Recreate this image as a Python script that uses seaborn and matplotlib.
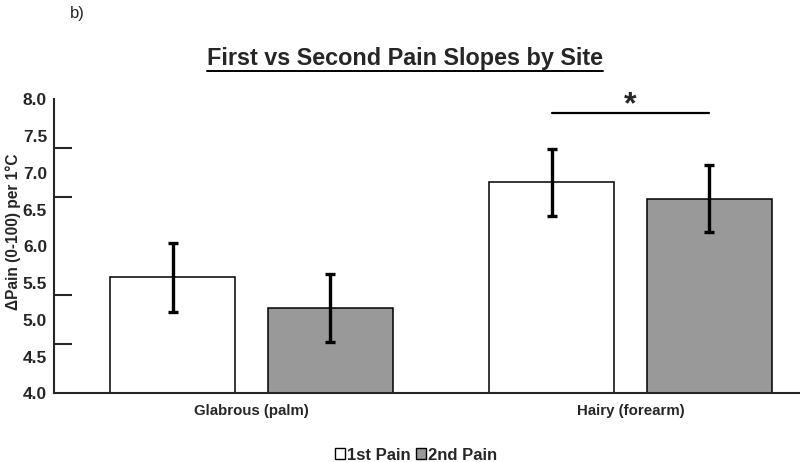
import numpy as np
import pandas as pd
import matplotlib.pyplot as plt
import seaborn as sns
from matplotlib.patches import Patch
from matplotlib.lines import Line2D

sites = ["Glabrous (palm)", "Hairy (forearm)"]
pain_types = ["1st Pain", "2nd Pain"]
first_pain = [5.58, 6.87]
second_pain = [5.16, 6.65]
first_err = [0.47, 0.46]
second_err = [0.46, 0.46]
y_ticks = [4.0, 4.5, 5.0, 5.5, 6.0, 6.5, 7.0, 7.5, 8.0]
y_ticklabels = ["4.0", "4.5", "5.0", "5.5", "6.0", "6.5", "7.0", "7.5", "8.0"]
colors = ["white", "#999999"]

df = pd.DataFrame({
    "site": sites * 2,
    "pain": [pain_types[0]] * 2 + [pain_types[1]] * 2,
    "slope": first_pain + second_pain,
    "err": first_err + second_err,
})

sns.set_style("ticks")
plt.rcParams["font.family"] = ["Liberation Sans", "DejaVu Sans"]

fig = plt.figure(figsize=(8, 4.62), dpi=100)
ax = fig.add_axes([0.0675, 0.1487, 0.9325, 0.636])

sns.barplot(data=df, x="site", y="slope", hue="pain", order=sites,
            hue_order=pain_types, palette=colors, edgecolor="black",
            linewidth=1.1, width=0.832, gap=0.207, errorbar=None,
            legend=False, ax=ax)

# error bars at each bar centre
for cont, errs in zip(ax.containers, [first_err, second_err]):
    for bar, e in zip(cont, errs):
        xc = bar.get_x() + bar.get_width() / 2
        ax.errorbar(xc, bar.get_height(), yerr=e, color="black",
                    elinewidth=2.4, capsize=3.4, capthick=2.4, zorder=5)

# significance bracket on hairy site
b1 = ax.containers[0][1]
b2 = ax.containers[1][1]
x1 = b1.get_x() + b1.get_width() / 2
x2 = b2.get_x() + b2.get_width() / 2
ax.plot([x1, x2], [7.81, 7.81], color="black", lw=1.6, clip_on=False)
ax.text((x1 + x2) / 2, 7.72, "*", ha="center", va="bottom",
        fontsize=23, fontweight="bold")

ax.set_xlim(-0.522, 1.448)
ax.set_ylim(4.0, 8.0)
ax.set_yticks(y_ticks)
ax.set_yticklabels(y_ticklabels, fontweight="bold", fontsize=12.5)
ax.set_yticks(np.linspace(4.0, 8.0, 7), minor=True)
ax.tick_params(axis="y", which="major", length=0, pad=5)
ax.tick_params(axis="y", which="minor", direction="in", length=13, width=1.5)
ax.tick_params(axis="x", length=0, pad=8)
for lab in ax.get_xticklabels():
    lab.set_fontweight("bold")
    lab.set_fontsize(10.8)
ax.set_xlabel("")
ax.set_ylabel("\u0394Pain (0-100) per 1\u00b0C", fontweight="bold", fontsize=11.2)
ax.yaxis.set_label_coords(-0.0445, 0.55)
sns.despine(ax=ax)
ax.spines["left"].set_linewidth(1.5)
ax.spines["bottom"].set_linewidth(1.5)

handles = [Patch(facecolor=c, edgecolor="black", linewidth=1.0) for c in colors]
fig.legend(handles, pain_types, loc="center", bbox_to_anchor=(0.52, 0.015),
           ncol=2, frameon=False, handlelength=0.6, handleheight=0.6,
           handletextpad=0.15, columnspacing=0.3,
           prop={"weight": "bold", "size": 12})

fig.text(0.0875, 0.97, "b)", fontsize=12, ha="left", va="center")
title = fig.text(0.506, 0.874, "First vs Second Pain Slopes by Site",
                 fontsize=16.8, fontweight="bold", ha="center", va="center")

# underline the title
fig.canvas.draw()
bb = title.get_window_extent().transformed(fig.transFigure.inverted())
fig.add_artist(Line2D([bb.x0, bb.x1], [bb.y0 - 0.002, bb.y0 - 0.002],
                      color="black", lw=1.4, transform=fig.transFigure))

fig.savefig("out.png", dpi=100)
